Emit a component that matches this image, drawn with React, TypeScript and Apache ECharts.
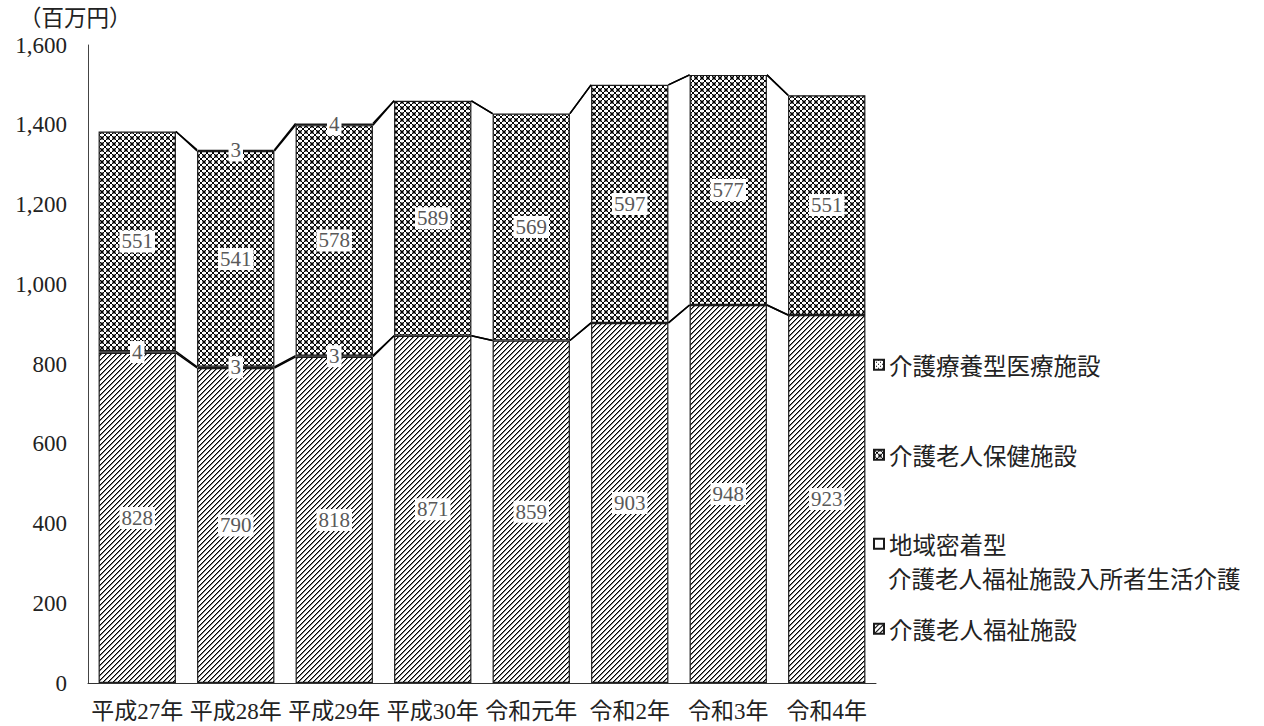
import React, { useEffect, useRef } from 'react';
import * as echarts from 'echarts';

const categories = ['平成27年', '平成28年', '平成29年', '平成30年', '令和元年', '令和2年', '令和3年', '令和4年'];
const nameFukushi = '介護老人福祉施設';
const nameChiiki = '地域密着型介護老人福祉施設入所者生活介護';
const nameHoken = '介護老人保健施設';
const nameRyoyo = '介護療養型医療施設';
const fukushi = [828, 790, 818, 871, 859, 903, 948, 923];
const chiiki: (number | null)[] = [4, 3, 3, null, null, null, null, null];
const hoken = [551, 541, 578, 589, 569, 597, 577, 551];
const ryoyo: (number | null)[] = [null, 3, 4, null, null, null, null, null];
const unitLabel = '（百万円）';

const SERIF = "'Liberation Serif', 'Noto Sans CJK JP', serif";
const CJK = "'Noto Sans CJK JP', sans-serif";
const BAR_RATIO = 0.785;

function makeTile(rows: string[]) {
  const h = rows.length;
  const w = rows[0].length;
  const c = document.createElement('canvas');
  c.width = w;
  c.height = h;
  const ctx = c.getContext('2d')!;
  ctx.fillStyle = '#ffffff';
  ctx.fillRect(0, 0, w, h);
  rows.forEach((r, y) => {
    r.split('').forEach((ch, x) => {
      if (ch === '#') {
        ctx.fillStyle = '#000000';
        ctx.fillRect(x, y, 1, 1);
      } else if (ch === '+') {
        ctx.fillStyle = '#7a7a7a';
        ctx.fillRect(x, y, 1, 1);
      }
    });
  });
  return { image: c.toDataURL(), repeat: 'repeat', imageWidth: w, imageHeight: h } as any;
}

function levels(i: number) {
  const a = fukushi[i] || 0;
  const b = a + (chiiki[i] || 0);
  const c = b + (hoken[i] || 0);
  const d = c + (ryoyo[i] || 0);
  return [a, b, c, d];
}

export default function App() {
  const ref = useRef<HTMLDivElement>(null);
  useEffect(() => {
    if (!ref.current) return;
    const chart = echarts.init(ref.current, undefined, { renderer: 'svg' });

    const diag = makeTile(['+...#', '...#+', '..#+.', '.#+..', '#+...']);
    const cross = makeTile(['#+..+#', '+#..#+', '..##..', '..##..', '+#..#+', '#+..+#']);
    const dots = makeTile(['#...', '....', '..#.', '....']);

    const label = {
      show: true,
      position: 'inside',
      color: '#595959',
      fontFamily: SERIF,
      fontSize: 21,
      backgroundColor: '#ffffff',
      padding: [1, 2, 0, 2],
      formatter: (p: any) => (p.value == null || p.value === 0 ? '' : String(p.value)),
    };
    const border = { borderColor: '#1a1a1a', borderWidth: 1.2 };

    const barBase = {
      type: 'bar',
      stack: 'total',
      barWidth: BAR_RATIO * 100 + '%',
      label,
      emphasis: { disabled: true },
    };

    const legendBase = {
      orient: 'vertical',
      left: 868,
      icon: 'rect',
      itemWidth: 10,
      itemHeight: 10,
      selectedMode: false,
      textStyle: { fontFamily: CJK, fontSize: 23.5, color: '#222' },
    };

    chart.setOption({
      animation: false,
      grid: { left: 88, right: 388, top: 45, bottom: 43, containLabel: false },
      xAxis: {
        type: 'category',
        data: categories,
        axisLine: { lineStyle: { color: '#333', width: 1 } },
        axisTick: { show: false },
        axisLabel: { interval: 0, fontFamily: SERIF, fontSize: 23, color: '#222', margin: 17 },
      },
      yAxis: {
        type: 'value',
        min: 0,
        max: 1600,
        interval: 200,
        axisLine: { show: true, lineStyle: { color: '#444', width: 1 } },
        axisTick: { show: false },
        splitLine: { show: false },
        axisLabel: {
          fontFamily: SERIF,
          fontSize: 23,
          color: '#222',
          margin: 21,
          formatter: (v: number) => v.toLocaleString('en-US'),
        },
      },
      legend: [
        { ...legendBase, top: 348, data: [nameRyoyo] },
        { ...legendBase, top: 438, data: [nameHoken] },
        { ...legendBase, top: 527, data: [nameChiiki], formatter: () => '地域密着型' },
        { ...legendBase, top: 612, data: [nameFukushi] },
      ],
      graphic: [
        {
          type: 'text',
          left: 19,
          top: 5,
          style: { text: unitLabel, fontFamily: CJK, fontSize: 22.5, fill: '#222' },
        },
        {
          type: 'text',
          left: 888,
          top: 566,
          style: { text: '介護老人福祉施設入所者生活介護', fontFamily: CJK, fontSize: 23.5, fill: '#222' },
        },
      ],
      series: [
        { ...barBase, name: nameFukushi, data: fukushi, itemStyle: { color: diag, ...border } },
        { ...barBase, name: nameChiiki, data: chiiki, itemStyle: { color: '#ffffff', ...border } },
        { ...barBase, name: nameHoken, data: hoken, itemStyle: { color: cross, ...border } },
        { ...barBase, name: nameRyoyo, data: ryoyo, itemStyle: { color: dots, ...border } },
        {
          type: 'custom',
          name: 'seriesLines',
          z: 5,
          silent: true,
          data: categories.slice(0, -1).map((c) => [c]),
          encode: { x: 0 },
          renderItem: (params: any, api: any) => {
            const i = params.dataIndex;
            const band = api.size([1, 0])[0];
            const hw = (band * BAR_RATIO) / 2;
            const l0 = levels(i);
            const l1 = levels(i + 1);
            return {
              type: 'group',
              children: l0.map((v, k) => {
                const p0 = api.coord([i, v]);
                const p1 = api.coord([i + 1, l1[k]]);
                return {
                  type: 'line',
                  shape: { x1: p0[0] + hw, y1: p0[1], x2: p1[0] - hw, y2: p1[1] },
                  style: { stroke: '#000', lineWidth: 1.5 },
                };
              }),
            };
          },
        },
      ],
    } as any);
    return () => chart.dispose();
  }, []);
  return <div ref={ref} style={{ position: 'absolute', left: 0, top: 0, width: 1264, height: 726 }} />;
}
